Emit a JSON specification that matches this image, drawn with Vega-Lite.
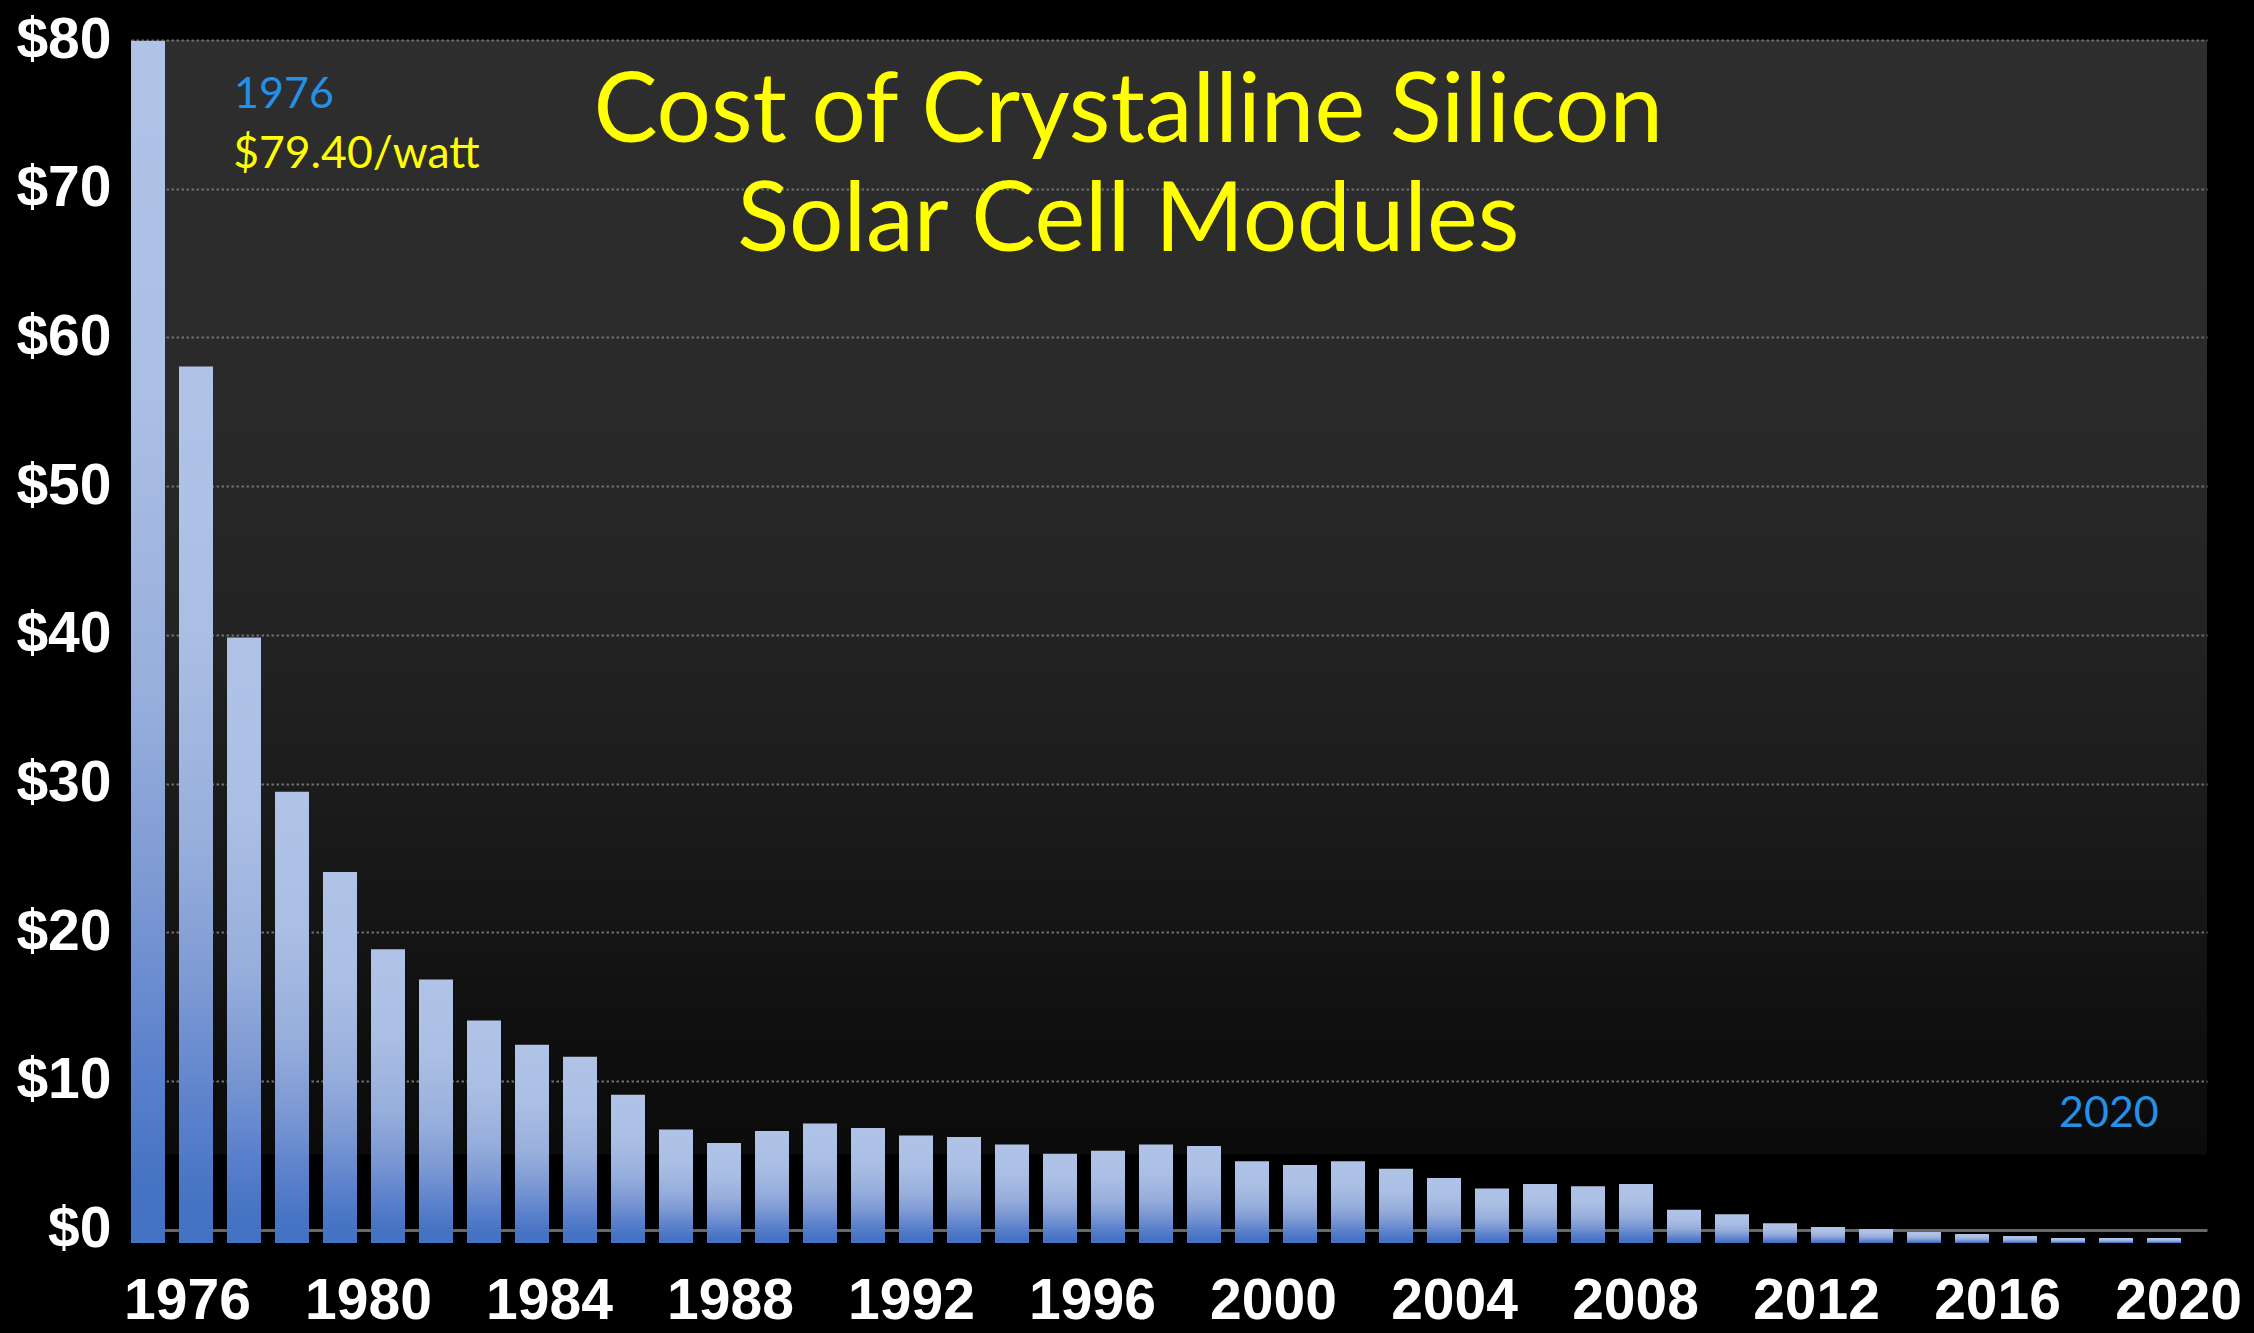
{
  "$schema": "https://vega.github.io/schema/vega-lite/v6.json",
  "width": 2076,
  "height": 1203,
  "autosize": {"type": "none"},
  "padding": {"left": 131, "top": 40, "right": 47, "bottom": 90},
  "background": "#000000",
  "view": {
    "stroke": null,
    "fill": {
      "gradient": "linear", "x1": 0, "y1": 0, "x2": 0, "y2": 1,
      "stops": [
        {"offset": 0, "color": "#2e2e2e"},
        {"offset": 0.3, "color": "#2a2a2a"},
        {"offset": 0.49, "color": "#232323"},
        {"offset": 0.615, "color": "#1c1c1c"},
        {"offset": 0.74, "color": "#151515"},
        {"offset": 0.8, "color": "#111111"},
        {"offset": 0.85, "color": "#0e0e0e"},
        {"offset": 0.926, "color": "#0b0b0b"},
        {"offset": 0.927, "color": "#000000"},
        {"offset": 1, "color": "#000000"}
      ]
    }
  },
  "data": {
    "values": [
      {"year": 1976, "cost": 79.4},
      {"year": 1977, "cost": 57.9},
      {"year": 1978, "cost": 40.0},
      {"year": 1979, "cost": 29.8},
      {"year": 1980, "cost": 24.5},
      {"year": 1981, "cost": 19.4},
      {"year": 1982, "cost": 17.4},
      {"year": 1983, "cost": 14.7},
      {"year": 1984, "cost": 13.1},
      {"year": 1985, "cost": 12.3},
      {"year": 1986, "cost": 9.8},
      {"year": 1987, "cost": 7.5},
      {"year": 1988, "cost": 6.6},
      {"year": 1989, "cost": 7.4},
      {"year": 1990, "cost": 7.9},
      {"year": 1991, "cost": 7.6},
      {"year": 1992, "cost": 7.1},
      {"year": 1993, "cost": 7.0},
      {"year": 1994, "cost": 6.5},
      {"year": 1995, "cost": 5.9},
      {"year": 1996, "cost": 6.1},
      {"year": 1997, "cost": 6.5},
      {"year": 1998, "cost": 6.4},
      {"year": 1999, "cost": 5.4},
      {"year": 2000, "cost": 5.15},
      {"year": 2001, "cost": 5.4},
      {"year": 2002, "cost": 4.9},
      {"year": 2003, "cost": 4.3},
      {"year": 2004, "cost": 3.6},
      {"year": 2005, "cost": 3.9},
      {"year": 2006, "cost": 3.75},
      {"year": 2007, "cost": 3.9},
      {"year": 2008, "cost": 2.2},
      {"year": 2009, "cost": 1.9},
      {"year": 2010, "cost": 1.3},
      {"year": 2011, "cost": 1.05},
      {"year": 2012, "cost": 0.92},
      {"year": 2013, "cost": 0.73},
      {"year": 2014, "cost": 0.59},
      {"year": 2015, "cost": 0.46},
      {"year": 2016, "cost": 0.33},
      {"year": 2017, "cost": 0.33},
      {"year": 2018, "cost": 0.33}
    ]
  },
  "resolve": {
    "scale": {"x": "independent", "y": "independent"},
    "axis": {"x": "independent", "y": "independent"}
  },
  "layer": [
    {
      "mark": {
        "type": "bar",
        "stroke": null,
        "fill": {
          "gradient": "linear", "x1": 0, "y1": 0, "x2": 0, "y2": 1,
          "stops": [
            {"offset": 0, "color": "#b0c3e7"},
            {"offset": 0.3, "color": "#abbee4"},
            {"offset": 0.55, "color": "#97aedc"},
            {"offset": 0.7, "color": "#7e9ad4"},
            {"offset": 0.85, "color": "#5b81cc"},
            {"offset": 0.95, "color": "#4673c4"},
            {"offset": 1, "color": "#4472c4"}
          ]
        }
      },
      "encoding": {
        "x": {"field": "year", "type": "ordinal", "scale": {"paddingInner": 0.2917, "paddingOuter": 0.2708, "align": 0}, "axis": null},
        "y": {"field": "cost", "type": "quantitative", "scale": {"domain": [0, 79.46], "nice": false, "zero": true}, "axis": null}
      }
    },
    {
      "data": {"values": [{}]},
      "mark": {"type": "text", "text": "Cost of Crystalline Silicon", "font": "Lato", "fontSize": 96, "color": "#FFFF00", "align": "center", "baseline": "alphabetic"},
      "encoding": {
        "x": {
          "datum": 1996.8, "type": "quantitative",
          "scale": {"domain": [1974.762, 2020.64], "nice": false, "zero": false},
          "axis": {
            "orient": "bottom", "title": null,
            "values": [1976, 1980, 1984, 1988, 1992, 1996, 2000, 2004, 2008, 2012, 2016, 2020],
            "format": "d",
            "labelFont": "Liberation Sans", "labelFontWeight": "bold", "labelFontSize": 57, "labelColor": "#FFFFFF",
            "labelPadding": 30, "labelBaseline": "top", "labelFlush": false, "labelOverlap": false, "labelBound": false,
            "ticks": false, "tickSize": 0, "domain": false, "grid": false
          }
        },
        "y": {
          "datum": 73.14, "type": "quantitative",
          "scale": {"domain": [-0.9, 80], "nice": false, "zero": false},
          "axis": {
            "orient": "left", "title": null,
            "values": [0, 10, 20, 30, 40, 50, 60, 70, 80],
            "labelExpr": "'$' + datum.value",
            "labelFont": "Liberation Sans", "labelFontWeight": "bold", "labelFontSize": 57, "labelColor": "#FFFFFF",
            "labelPadding": 20, "labelFlush": false, "labelOverlap": false, "labelBound": false,
            "ticks": false, "tickSize": 0, "domain": false, "grid": true,
            "gridColor": {"condition": {"test": "datum.value === 0", "value": "#646868"}, "value": "#707070"},
            "gridDash": {"condition": {"test": "datum.value === 0", "value": []}, "value": [2.5, 2.5]},
            "gridWidth": {"condition": {"test": "datum.value === 0", "value": 3}, "value": 2}
          }
        }
      }
    },
    {
      "data": {"values": [{}]},
      "mark": {"type": "text", "text": "Solar Cell Modules", "font": "Lato", "fontSize": 96, "color": "#FFFF00", "align": "center", "baseline": "alphabetic"},
      "encoding": {
        "x": {"datum": 1996.8, "type": "quantitative", "scale": {"domain": [1974.762, 2020.64], "nice": false, "zero": false}, "axis": null},
        "y": {"datum": 65.81, "type": "quantitative", "scale": {"domain": [-0.9, 80], "nice": false, "zero": false}, "axis": null}
      }
    },
    {
      "data": {"values": [{}]},
      "mark": {"type": "text", "text": "1976", "font": "Lato", "fontSize": 43, "color": "#2490E8", "align": "left", "baseline": "alphabetic"},
      "encoding": {
        "x": {"datum": 1977.04, "type": "quantitative", "scale": {"domain": [1974.762, 2020.64], "nice": false, "zero": false}, "axis": null},
        "y": {"datum": 75.43, "type": "quantitative", "scale": {"domain": [-0.9, 80], "nice": false, "zero": false}, "axis": null}
      }
    },
    {
      "data": {"values": [{}]},
      "mark": {"type": "text", "text": "$79.40/watt", "font": "Lato", "fontSize": 44.5, "color": "#FFFF00", "align": "left", "baseline": "alphabetic"},
      "encoding": {
        "x": {"datum": 1977.02, "type": "quantitative", "scale": {"domain": [1974.762, 2020.64], "nice": false, "zero": false}, "axis": null},
        "y": {"datum": 71.39, "type": "quantitative", "scale": {"domain": [-0.9, 80], "nice": false, "zero": false}, "axis": null}
      }
    },
    {
      "data": {"values": [{}]},
      "mark": {"type": "text", "text": "2020", "font": "Lato", "fontSize": 43, "color": "#2490E8", "align": "left", "baseline": "alphabetic"},
      "encoding": {
        "x": {"datum": 2017.37, "type": "quantitative", "scale": {"domain": [1974.762, 2020.64], "nice": false, "zero": false}, "axis": null},
        "y": {"datum": 6.9, "type": "quantitative", "scale": {"domain": [-0.9, 80], "nice": false, "zero": false}, "axis": null}
      }
    }
  ]
}
